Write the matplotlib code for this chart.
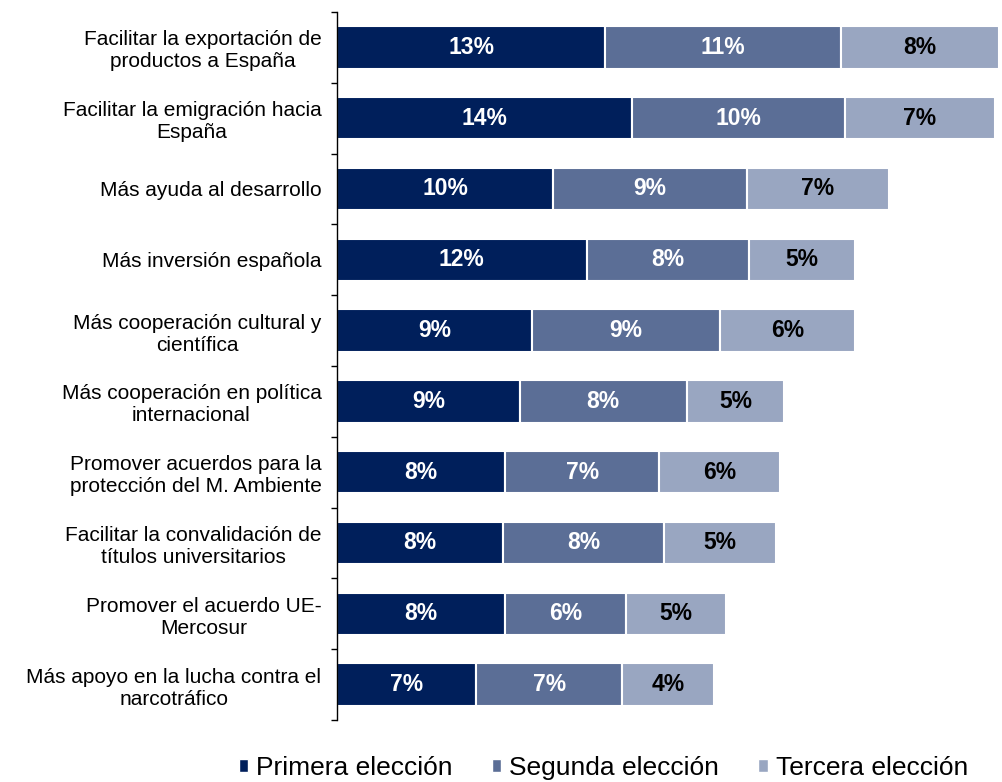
import matplotlib
matplotlib.use("Agg")
import matplotlib.pyplot as plt
from matplotlib.patches import Patch
import numpy as np

plt.rcParams['font.family'] = ['Liberation Sans', 'DejaVu Sans']

categories = [
    "Facilitar la exportación de\nproductos a España",
    "Facilitar la emigración hacia\nEspaña",
    "Más ayuda al desarrollo",
    "Más inversión española",
    "Más cooperación cultural y\ncientífica",
    "Más cooperación en política\ninternacional",
    "Promover acuerdos para la\nprotección del M. Ambiente",
    "Facilitar la convalidación de\ntítulos universitarios",
    "Promover el acuerdo UE-\nMercosur",
    "Más apoyo en la lucha contra el\nnarcotráfico",
]
primera = [12.9, 14.2, 10.4, 12.0, 9.4, 8.8, 8.1, 8.0, 8.1, 6.7]
segunda = [11.3, 10.2, 9.3, 7.8, 9.0, 8.0, 7.4, 7.7, 5.8, 7.0]
tercera = [7.6, 7.2, 6.8, 5.1, 6.5, 4.7, 5.8, 5.4, 4.8, 4.4]
series_names = ["Primera elección", "Segunda elección", "Tercera elección"]
colors = ["#001F5B", "#5B6E96", "#99A6C1"]
text_colors = ["white", "white", "black"]

fig = plt.figure(figsize=(10.02, 7.82), dpi=100)
ax = fig.add_axes([0.336, 0.0793, 0.662, 0.9054])

y = np.arange(len(categories))
left = np.zeros(len(categories))
for vals, col, tc in zip([primera, segunda, tercera], colors, text_colors):
    vals = np.array(vals)
    bars = ax.barh(y, vals, left=left, height=0.6, color=col,
                   edgecolor="white", linewidth=1.5)
    for b, v in zip(bars, vals):
        ax.text(b.get_x() + b.get_width() / 2, b.get_y() + b.get_height() / 2,
                f"{round(v):.0f}%", ha="center", va="center",
                color=tc, fontsize=16.5, fontweight="bold")
    left = left + vals

ax.set_ylim(len(categories) - 0.5, -0.5)
ax.set_xlim(0, left.max() + 0.05)
ax.set_yticks(y)
ax.set_yticklabels(categories, fontsize=15, linespacing=1.2,
                   multialignment="center")
ax.tick_params(axis="y", which="major", length=0, pad=11)
ax.set_yticks(np.arange(-0.5, len(categories), 1.0), minor=True)
ax.tick_params(axis="y", which="minor", length=4.5, width=1, direction="out")
ax.set_xticks([])
for s in ["top", "right", "bottom"]:
    ax.spines[s].set_visible(False)
ax.spines["left"].set_linewidth(1.0)

handles = [Patch(facecolor=c, edgecolor="white") for c in colors]
fig.legend(handles, series_names, loc="center", bbox_to_anchor=(0.602, 0.018),
           ncol=3, frameon=False, fontsize=19, handlelength=0.35,
           handleheight=0.35, handletextpad=0.3, columnspacing=1.5)

fig.savefig("out.png", dpi=100)
